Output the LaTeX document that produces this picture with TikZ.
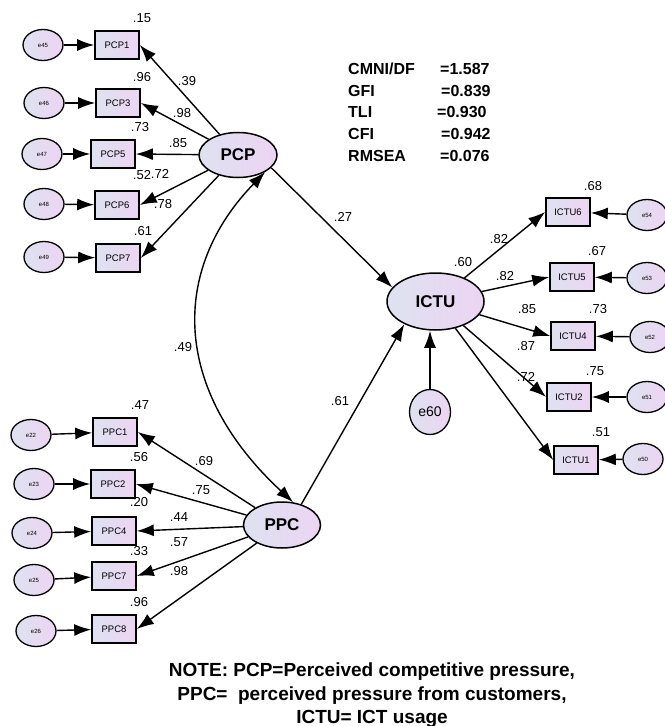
\documentclass[tikz,border=0pt]{standalone}
\usepackage{fontspec}
\setmainfont{Liberation Sans}
\usetikzlibrary{arrows.meta,shapes.geometric}
\definecolor{cl}{RGB}{222,226,240}
\definecolor{cr}{RGB}{237,212,243}
\begin{document}
\begin{tikzpicture}[x=1bp,y=-1bp]
\tikzset{
 grad/.style={left color=cl, right color=cr},
 obs/.style={draw, line width=1.6bp, grad, minimum width=44bp, minimum height=28bp, inner sep=0pt, font=\fontsize{9.5bp}{11bp}\selectfont},
 err/.style={draw, ellipse, line width=1.3bp, grad, minimum width=40bp, minimum height=31bp, inner sep=0pt, font=\fontsize{6bp}{7bp}\selectfont},
 lat/.style={draw, ellipse, line width=1.5bp, grad, inner sep=0pt, font=\bfseries\fontsize{17bp}{20bp}\selectfont},
 val/.style={inner sep=0pt, font=\fontsize{13bp}{15bp}\selectfont},
 fit/.style={inner sep=0pt, anchor=base west, font=\bfseries\fontsize{16bp}{19bp}\selectfont},
 note/.style={inner sep=0pt, anchor=base, font=\bfseries\fontsize{19bp}{22bp}\selectfont},
 arr/.style={line width=1.4bp, -{Latex[length=17bp,width=12bp]}},
 darr/.style={line width=1.4bp, {Latex[length=17bp,width=12bp]}-{Latex[length=17bp,width=12bp]}},
}
\useasboundingbox (0,0) rectangle (665,726);

% latent variables
\node[lat, minimum width=78bp, minimum height=45bp] (PCP) at (238,155) {PCP};
\node[lat, minimum width=77bp, minimum height=46bp] (PPC) at (282,525) {PPC};
\node[lat, minimum width=97bp, minimum height=57bp] (ICTU) at (435.5,301.5) {ICTU};
\node[err, minimum width=41bp, minimum height=45bp, font=\fontsize{14bp}{16bp}\selectfont] (e60) at (430,412) {e60};

% PCP indicators
\node[obs] (PCP1) at (117,45) {PCP1};
\node[obs] (PCP3) at (118,103) {PCP3};
\node[obs] (PCP5) at (113,154) {PCP5};
\node[obs] (PCP6) at (117,205) {PCP6};
\node[obs] (PCP7) at (118,258) {PCP7};
\node[err] (e45) at (43,45) {e45};
\node[err] (e46) at (44,103) {e46};
\node[err] (e47) at (42,154) {e47};
\node[err] (e48) at (44,204) {e48};
\node[err] (e49) at (44,257) {e49};

% PPC indicators
\node[obs] (PPC1) at (115,432) {PPC1};
\node[obs] (PPC2) at (113,484) {PPC2};
\node[obs] (PPC4) at (114,531) {PPC4};
\node[obs] (PPC7) at (114,576) {PPC7};
\node[obs] (PPC8) at (114,629) {PPC8};
\node[err] (e22) at (31,435) {e22};
\node[err] (e23) at (34,484) {e23};
\node[err] (e24) at (32,533) {e24};
\node[err] (e25) at (34,580) {e25};
\node[err] (e26) at (36,631) {e26};

% ICTU indicators
\node[obs] (ICTU6) at (568,212) {ICTU6};
\node[obs] (ICTU5) at (572,277) {ICTU5};
\node[obs] (ICTU4) at (573,336) {ICTU4};
\node[obs] (ICTU2) at (569,397) {ICTU2};
\node[obs] (ICTU1) at (576,460) {ICTU1};
\node[err] (e54) at (647,215) {e54};
\node[err] (e53) at (647,278) {e53};
\node[err] (e52) at (650,337) {e52};
\node[err] (e51) at (647,397) {e51};
\node[err] (e50) at (643,459) {e50};

% error arrows
\foreach \e/\b in {e45/PCP1,e46/PCP3,e47/PCP5,e48/PCP6,e49/PCP7,e22/PPC1,e23/PPC2,e24/PPC4,e25/PPC7,e26/PPC8,e54/ICTU6,e53/ICTU5,e52/ICTU4,e51/ICTU2,e50/ICTU1}
  \draw[arr] (\e) -- (\b);
\draw[arr] (e60.north) -- (e60.north |- ICTU.south);

% loadings
\foreach \b in {PCP1,PCP3,PCP5,PCP6,PCP7}
  \draw[arr] (PCP) -- (\b.east);
\foreach \b in {PPC1,PPC2,PPC4,PPC7,PPC8}
  \draw[arr] (PPC) -- (\b.east);
\foreach \b in {ICTU6,ICTU5,ICTU4,ICTU2,ICTU1}
  \draw[arr] (ICTU) -- (\b.west);

% structural paths
\draw[arr] (PCP.-21) -- (ICTU.162);
\draw[arr] (PPC.47) -- (ICTU.216);
\draw[darr] (PCP.-32) .. controls (170,270) and (172,390) .. (PPC.64);

% values
\node[val] (v1) at (142,18) {.15};
\node[val] (v2) at (142,77) {.96};
\node[val] (v3) at (187,81) {.39};
\node[val] (v4) at (182,113) {.98};
\node[val] (v5) at (140,127) {.73};
\node[val] (v6) at (178,143) {.85};
\node[val] (v7) at (142,175) {.52};
\node[val] (v8) at (160,174) {.72};
\node[val] (v9) at (163,204) {.78};
\node[val] (v10) at (143,231) {.61};

\node[val] (w1) at (140,405) {.47};
\node[val] (w2) at (139,457) {.56};
\node[val] (w3) at (204,461) {.69};
\node[val] (w4) at (201,490) {.75};
\node[val] (w5) at (139,502) {.20};
\node[val] (w6) at (179,517) {.44};
\node[val] (w7) at (179,542) {.57};
\node[val] (w8) at (139,551) {.33};
\node[val] (w9) at (179,571) {.98};
\node[val] (w10) at (139,602) {.96};

\node[val] (u1) at (593,186) {.68};
\node[val] (u2) at (499,239) {.82};
\node[val] (u3) at (463,262) {.60};
\node[val] (u4) at (597,251) {.67};
\node[val] (u5) at (505,276) {.82};
\node[val] (u6) at (527,309) {.85};
\node[val] (u7) at (598,309) {.73};
\node[val] (u8) at (526,346) {.87};
\node[val] (u9) at (526,377) {.72};
\node[val] (u10) at (595,371) {.75};
\node[val] (u11) at (601,432) {.51};

\node[val] (s1) at (343,217) {.27};
\node[val] (s2) at (183,347) {.49};
\node[val] (s3) at (340,401) {.61};

% fit statistics
\node[fit] (f1) at (348,75) {CMNI/DF};
\node[fit] (f2) at (348,97) {GFI};
\node[fit] (f3) at (348,118) {TLI};
\node[fit] (f4) at (348,140) {CFI};
\node[fit] (f5) at (348,161) {RMSEA};
\node[fit] (g1) at (440,75) {=1.587};
\node[fit] (g2) at (441,97) {=0.839};
\node[fit] (g3) at (437,118) {=0.930};
\node[fit] (g4) at (441,140) {=0.942};
\node[fit] (g5) at (440,161) {=0.076};

% note
\node[note] (n1) at (372,676) {NOTE: PCP=Perceived competitive pressure,};
\node[note] (n2) at (372,700) {PPC=\ \ perceived pressure from customers,};
\node[note] (n3) at (372,723) {ICTU= ICT usage};
\end{tikzpicture}
\end{document}
